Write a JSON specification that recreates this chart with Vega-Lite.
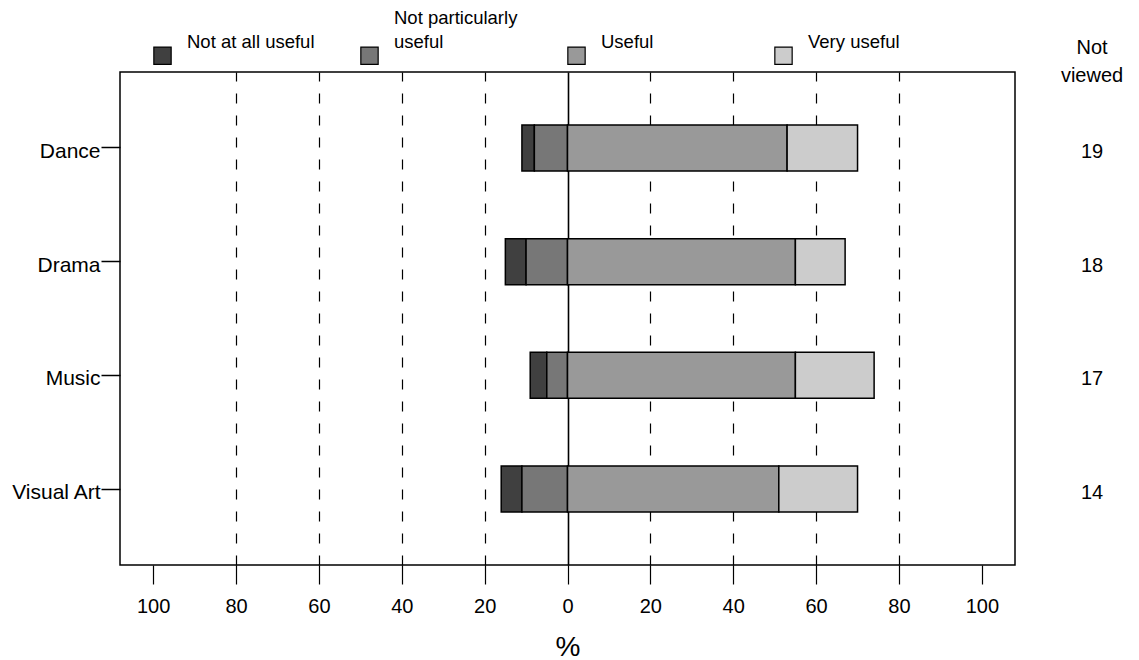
{
  "$schema": "https://vega.github.io/schema/vega-lite/v6.json",
  "width": 895,
  "height": 493,
  "autosize": {"type": "none"},
  "padding": {"left": 120, "top": 72, "right": 124, "bottom": 95},
  "background": "#ffffff",
  "config": {
    "font": "Liberation Sans",
    "view": {"stroke": "#000000", "strokeWidth": 1.5},
    "axis": {"labelColor": "#000000", "tickColor": "#000000", "domain": false, "labelFont": "Liberation Sans", "titleFont": "Liberation Sans", "titleColor": "#000000"},
    "axisY": {"tickSize": 19, "tickWidth": 1.5, "labelPadding": 1, "labelFontSize": 21, "labelOffset": 4, "grid": false}
  },
  "datasets": {
    "responses": [
      {"art": "Dance", "response": "Not at all useful", "pct": -3, "rank": 2},
      {"art": "Dance", "response": "Not particularly useful", "pct": -8, "rank": 1},
      {"art": "Dance", "response": "Useful", "pct": 53, "rank": 3},
      {"art": "Dance", "response": "Very useful", "pct": 17, "rank": 4},
      {"art": "Drama", "response": "Not at all useful", "pct": -5, "rank": 2},
      {"art": "Drama", "response": "Not particularly useful", "pct": -10, "rank": 1},
      {"art": "Drama", "response": "Useful", "pct": 55, "rank": 3},
      {"art": "Drama", "response": "Very useful", "pct": 12, "rank": 4},
      {"art": "Music", "response": "Not at all useful", "pct": -4, "rank": 2},
      {"art": "Music", "response": "Not particularly useful", "pct": -5, "rank": 1},
      {"art": "Music", "response": "Useful", "pct": 55, "rank": 3},
      {"art": "Music", "response": "Very useful", "pct": 19, "rank": 4},
      {"art": "Visual Art", "response": "Not at all useful", "pct": -5, "rank": 2},
      {"art": "Visual Art", "response": "Not particularly useful", "pct": -11, "rank": 1},
      {"art": "Visual Art", "response": "Useful", "pct": 51, "rank": 3},
      {"art": "Visual Art", "response": "Very useful", "pct": 19, "rank": 4}
    ],
    "notviewed": [
      {"art": "Dance", "n": 19},
      {"art": "Drama", "n": 18},
      {"art": "Music", "n": 17},
      {"art": "Visual Art", "n": 14}
    ]
  },
  "layer": [
    {
      "data": {"name": "responses"},
      "mark": {"type": "bar", "stroke": "#000000", "strokeWidth": 1.5},
      "encoding": {
        "y": {
          "field": "art", "type": "nominal",
          "sort": ["Dance", "Drama", "Music", "Visual Art"],
          "scale": {"domain": ["Dance", "Drama", "Music", "Visual Art"], "paddingInner": 0.595, "paddingOuter": 0.466},
          "axis": {"title": null}
        },
        "x": {
          "field": "pct", "type": "quantitative", "stack": "zero",
          "scale": {"domain": [-108, 108], "nice": false, "zero": false},
          "axis": {
            "title": "%", "titleFontSize": 28, "titleFontWeight": "normal", "titlePadding": 17,
            "values": [-100, -80, -60, -40, -20, 0, 20, 40, 60, 80, 100],
            "labelExpr": "abs(datum.value)",
            "tickSize": 19, "tickWidth": 1.2, "labelFontSize": 20, "labelPadding": 12,
            "grid": true, "gridColor": "#000000",
            "gridOpacity": {"condition": {"test": "abs(datum.value) == 100", "value": 0}, "value": 1},
            "gridDash": {"condition": {"test": "datum.value == 0", "value": []}, "value": [10, 12]},
            "gridWidth": {"condition": {"test": "datum.value == 0", "value": 1.6}, "value": 1.2}
          }
        },
        "order": {"field": "rank", "type": "quantitative"},
        "color": {
          "field": "response", "type": "nominal",
          "scale": {
            "domain": ["Not at all useful", "Not particularly useful", "Useful", "Very useful"],
            "range": ["#404040", "#777777", "#999999", "#cccccc"]
          },
          "legend": {
            "title": null, "orient": "none", "legendX": 33, "legendY": -26,
            "direction": "horizontal", "columns": 4, "gridAlign": "all", "columnPadding": 43,
            "padding": 0,
            "symbolType": "square", "symbolSize": 300, "symbolStrokeColor": "#000000", "symbolStrokeWidth": 1.2,
            "symbolOpacity": 1,
            "labelFontSize": 18.5, "labelColor": "#000000", "labelOffset": 15, "labelBaseline": "bottom", "labelLimit": 300,
            "labelExpr": "datum.label == 'Not particularly useful' ? ['Not particularly', 'useful'] : datum.label",
            "encode": {"labels": {"update": {
              "lineHeight": {"value": 24},
              "dy": [{"test": "datum.label == 'Not particularly useful'", "value": -28}, {"value": -4}]
            }}}
          }
        }
      }
    },
    {
      "data": {"name": "notviewed"},
      "mark": {"type": "text", "x": {"expr": "width + 77"}, "dy": 4, "fontSize": 20, "align": "center", "baseline": "middle", "color": "#000000"},
      "encoding": {
        "y": {"field": "art", "type": "nominal", "sort": ["Dance", "Drama", "Music", "Visual Art"], "axis": {"title": null}},
        "text": {"field": "n", "type": "quantitative"}
      }
    },
    {
      "data": {"values": [{"label": "Not viewed"}]},
      "mark": {"type": "text", "x": {"expr": "width + 77"}, "y": -24, "fontSize": 20, "lineHeight": 28, "align": "center", "baseline": "middle", "color": "#000000", "text": ["Not", "viewed"]},
      "encoding": {}
    }
  ]
}
